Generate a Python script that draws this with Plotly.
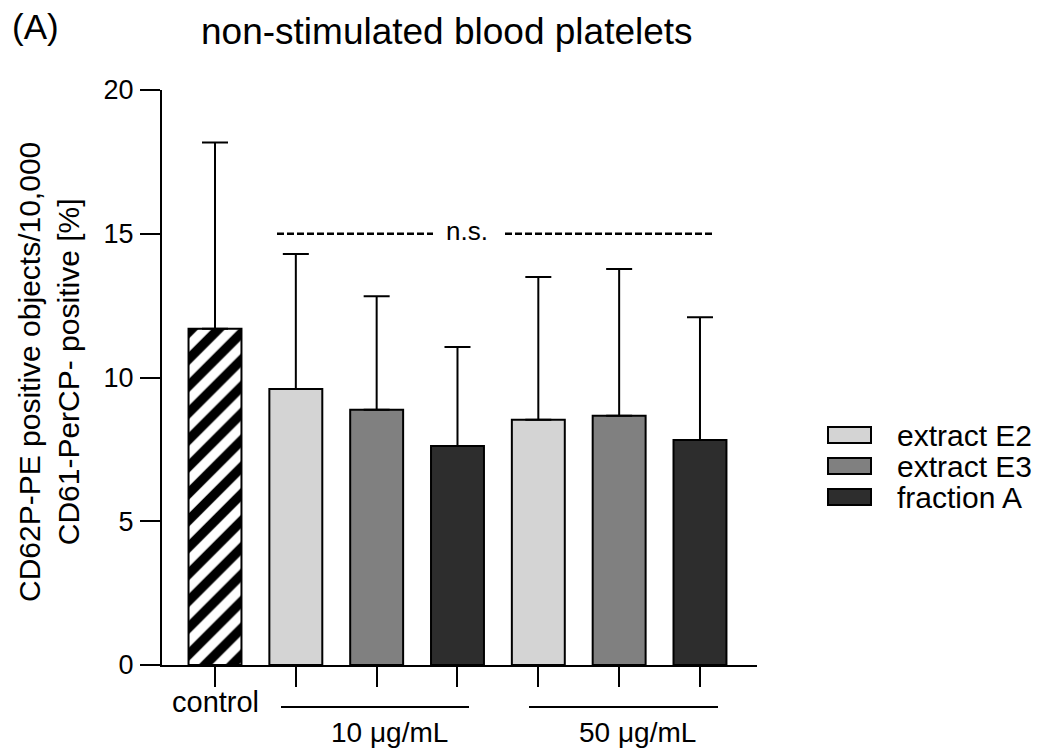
import plotly.graph_objects as go

# ---------------- data ----------------
categories = ["control", "E2 10", "E3 10", "A 10", "E2 50", "E3 50", "A 50"]
means = [11.7, 9.6, 8.88, 7.62, 8.53, 8.67, 7.83]
upper_tops = [18.17, 14.3, 12.83, 11.06, 13.5, 13.77, 12.1]
groups = ["control", "extract E2", "extract E3", "fraction A", "extract E2", "extract E3", "fraction A"]
legend_labels = ["extract E2", "extract E3", "fraction A"]
group_colors = {"extract E2": "#d4d4d4", "extract E3": "#808080", "fraction A": "#2d2d2d"}
y_ticks = [0, 5, 10, 15, 20]
dose_labels = ["10 \u03bcg/mL", "50 \u03bcg/mL"]
sig_label = "n.s."
sig_level = 15

FONT = "Liberation Sans, Arial, sans-serif"
W, H = 1047, 749
ML, MR, MT, MB = 162, 290, 90, 84
PW, PH = W - ML - MR, H - MT - MB
SPACING = 80.83
X0PX = 215
xr = [(ML - X0PX) / SPACING, (W - MR - X0PX) / SPACING]


def px_x(px):  # pixel -> data x
    return (px - X0PX) / SPACING


def pp_x(px):  # pixel -> paper x
    return (px - ML) / PW


def pp_y(py):  # pixel -> paper y
    return (H - MB - py) / PH


def txt(size):
    return dict(family=FONT, size=size, color="black")


fig = go.Figure()

xs = list(range(len(categories)))
err = [t - m for t, m in zip(upper_tops, means)]

for g in ["control"] + legend_labels:
    idx = [i for i, gg in enumerate(groups) if gg == g]
    if g == "control":
        marker = dict(color="white", line=dict(color="black", width=2),
                      pattern=dict(shape="/", fgcolor="black", bgcolor="white",
                                   size=19, solidity=0.5, fillmode="replace"))
    else:
        marker = dict(color=group_colors[g], line=dict(color="black", width=2))
    fig.add_trace(go.Bar(
        x=[xs[i] for i in idx], y=[means[i] for i in idx],
        width=0.655, marker=marker, name=g, showlegend=False,
        error_y=dict(type="data", symmetric=False,
                     array=[err[i] for i in idx], arrayminus=[0] * len(idx),
                     color="black", thickness=2, width=13),
    ))

# significance dashed line
for a, b in [(277, 433), (505, 715)]:
    fig.add_shape(type="line", xref="x", yref="y", x0=px_x(a), x1=px_x(b),
                  y0=sig_level, y1=sig_level,
                  line=dict(color="black", width=2.5, dash="7px,3px"))
fig.add_annotation(x=px_x(467), y=sig_level, xref="x", yref="y", text=sig_label,
                   showarrow=False, font=txt(26), xanchor="center", yanchor="middle",
                   yshift=3)

# group lines + dose labels
for (a, b), lab, cx in zip([(281, 469), (529, 718)], dose_labels, [389, 637]):
    fig.add_shape(type="line", xref="x", yref="paper", x0=px_x(a), x1=px_x(b),
                  y0=pp_y(707), y1=pp_y(707), line=dict(color="black", width=2))
    fig.add_annotation(x=px_x(cx), y=pp_y(732), xref="x", yref="paper", text=lab,
                       showarrow=False, font=txt(28), xanchor="center", yanchor="middle")

fig.add_annotation(x=0, y=pp_y(702), xref="x", yref="paper", text=categories[0],
                   showarrow=False, font=txt(29), xanchor="center", yanchor="middle")

# legend (custom)
for lab, cy in zip(legend_labels, [435, 466, 497]):
    fig.add_shape(type="rect", xref="paper", yref="paper",
                  x0=pp_x(828), x1=pp_x(871), y0=pp_y(cy + 8), y1=pp_y(cy - 8),
                  fillcolor=group_colors[lab], line=dict(color="black", width=2))
    fig.add_annotation(x=pp_x(895), y=pp_y(cy), xref="paper", yref="paper", text=lab,
                       xanchor="left", yanchor="middle", showarrow=False, font=txt(30))

# titles
fig.add_annotation(x=pp_x(447), y=pp_y(31), xref="paper", yref="paper",
                   text="non-stimulated blood platelets", showarrow=False,
                   xanchor="center", yanchor="middle", font=txt(37))
fig.add_annotation(x=pp_x(10), y=pp_y(27), xref="paper", yref="paper", text="(A)",
                   xanchor="left", yanchor="middle", showarrow=False, font=txt(35))
fig.add_annotation(x=pp_x(49), y=pp_y(372), xref="paper", yref="paper",
                   text="CD62P-PE positive objects/10,000<br>CD61-PerCP- positive [%]",
                   textangle=-90, showarrow=False, xanchor="center", yanchor="middle",
                   font=txt(30))

fig.update_layout(
    width=W, height=H,
    margin=dict(l=ML, r=MR, t=MT, b=MB, pad=0),
    paper_bgcolor="white", plot_bgcolor="white",
    barmode="overlay",
    xaxis=dict(range=xr, tickvals=xs, showticklabels=False, ticks="outside",
               ticklen=20, tickwidth=2, tickcolor="black", showline=True,
               linecolor="black", linewidth=2, showgrid=False, zeroline=False),
    yaxis=dict(range=[0, 20], tickvals=y_ticks, ticks="outside", ticklen=20,
               tickwidth=2, tickcolor="black", showline=True, linecolor="black",
               linewidth=2, showgrid=False, zeroline=False,
               tickfont=txt(27), ticklabelstandoff=1),
    showlegend=False,
)

fig.write_html("out.html")
